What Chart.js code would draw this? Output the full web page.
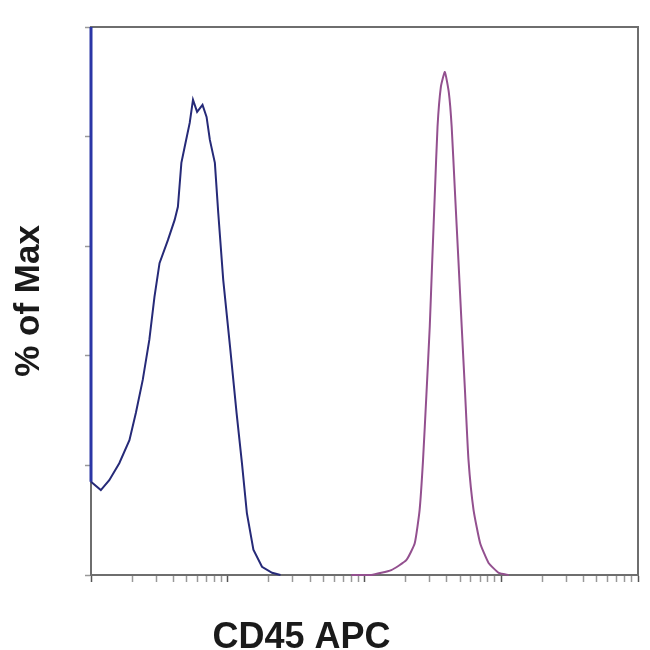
<!DOCTYPE html>
<html>
<head>
<meta charset="utf-8">
<script src="https://cdn.jsdelivr.net/npm/chart.js@4.4.1/dist/chart.umd.min.js"></script>
<style>
  html, body { margin: 0; padding: 0; background: #fff; }
</style>
</head>
<body>
<canvas id="histo" width="650" height="650"></canvas>
<script>
// isotype control (blue) and CD45 APC stained (pink)
const controlX = [1, 1, 1.18, 1.36, 1.61, 1.91, 2.13, 2.39, 2.67, 2.91, 3.17, 3.65, 4.09, 4.32, 4.58, 4.84,
    5.27, 5.57, 5.97, 6.54, 7.0, 7.4, 8.05, 8.52, 9.27, 10.4, 11.6, 12.7, 13.8, 15.4, 17.8, 21.1, 24.3];
const controlY = [100, 17, 15.5, 17.3, 20.4, 24.6, 29.6, 35.6, 42.9, 50.7, 56.9, 61.1, 64.8, 67.2, 75.2, 78.1,
    82.5, 86.7, 84.5, 85.8, 83.6, 79.4, 75.2, 66.1, 53.8, 41.6, 29.6, 20.4, 11.3, 4.6, 1.5, 0.4, 0];

const cd45X = [80, 112, 157, 202, 233, 253, 268, 284, 300, 313, 327, 342, 362, 387, 414, 434,
    459, 486, 514, 544, 576, 627, 701, 808, 958, 1134];
const cd45Y = [0, 0, 0.9, 2.7, 5.8, 11.9, 21.0, 33.2, 45.3, 57.5, 69.7, 81.8, 89.1, 91.8, 88.0, 81.8,
    69.7, 57.5, 45.3, 33.2, 21.0, 11.9, 5.8, 2.2, 0.4, 0];

const xDecades = [1, 10, 100, 1000, 10000];
const yTicks = [0, 20, 40, 60, 80, 100];

const xTitle = 'CD45 APC';
const yTitle = '% of Max';

// minor log ticks 2..9 inside each decade
const xTicks = [];
xDecades.forEach((d, i) => {
    xTicks.push({ value: d, major: true });
    if (i < xDecades.length - 1) {
        for (let m = 2; m <= 9; m++) xTicks.push({ value: d * m, major: false });
    }
});

const frame = {
    id: 'frame',
    beforeDatasetsDraw(chart) {
        const { ctx, chartArea: a } = chart;
        ctx.save();
        ctx.strokeStyle = '#6e6e6e';
        ctx.lineWidth = 2;
        ctx.strokeRect(a.left, a.top, a.right - a.left, a.bottom - a.top);
        ctx.restore();
    },
    afterDraw(chart) {
        // x title sits left of centre in the original
        const { ctx, chartArea: a } = chart;
        ctx.save();
        ctx.fillStyle = '#1a1a1a';
        ctx.font = 'bold 36px "Liberation Sans", Arial, sans-serif';
        ctx.textAlign = 'center';
        ctx.textBaseline = 'alphabetic';
        ctx.fillText(xTitle, a.left + (a.right - a.left) * 0.385, 648);
        ctx.restore();
    }
};

new Chart(document.getElementById('histo'), {
    type: 'line',
    data: {
        datasets: [
            {
                label: 'Isotype',
                data: controlX.map((x, i) => ({ x: x, y: controlY[i] })),
                borderColor: '#262a78',
                borderWidth: 2,
                segment: {
                    borderColor: ctx => ctx.p0DataIndex === 0 ? '#2b36a6' : undefined,
                    borderWidth: ctx => ctx.p0DataIndex === 0 ? 3 : undefined
                },
                pointRadius: 0,
                tension: 0,
                clip: false
            },
            {
                label: 'CD45 APC',
                data: cd45X.map((x, i) => ({ x: x, y: cd45Y[i] })),
                borderColor: '#93508f',
                borderWidth: 2,
                pointRadius: 0,
                tension: 0.15,
                clip: false
            }
        ]
    },
    options: {
        responsive: false,
        animation: false,
        layout: {
            padding: { left: 8, right: 12, top: 27, bottom: 68 }
        },
        plugins: {
            legend: { display: false },
            tooltip: { enabled: false }
        },
        scales: {
            x: {
                type: 'logarithmic',
                min: xDecades[0],
                max: xDecades[xDecades.length - 1],
                afterBuildTicks: scale => { scale.ticks = xTicks.map(t => ({ ...t })); },
                ticks: { display: false },
                grid: {
                    drawOnChartArea: false,
                    tickLength: 7,
                    tickColor: ctx => ctx.tick && ctx.tick.major ? '#555' : '#999',
                    tickWidth: 1.5
                },
                border: { color: '#3a3a3a', width: 2 }
            },
            y: {
                min: yTicks[0],
                max: yTicks[yTicks.length - 1],
                afterBuildTicks: scale => { scale.ticks = yTicks.map(v => ({ value: v })); },
                ticks: { display: false },
                grid: {
                    drawOnChartArea: false,
                    tickLength: 6,
                    tickColor: '#999',
                    tickWidth: 1.5
                },
                border: { color: '#3a3a3a', width: 2 },
                title: {
                    display: true,
                    text: yTitle,
                    color: '#1a1a1a',
                    font: { family: '"Liberation Sans", Arial, sans-serif', size: 35, weight: 'bold' },
                    padding: { top: 0, bottom: 35 }
                }
            }
        }
    },
    plugins: [frame]
});
</script>
</body>
</html>
